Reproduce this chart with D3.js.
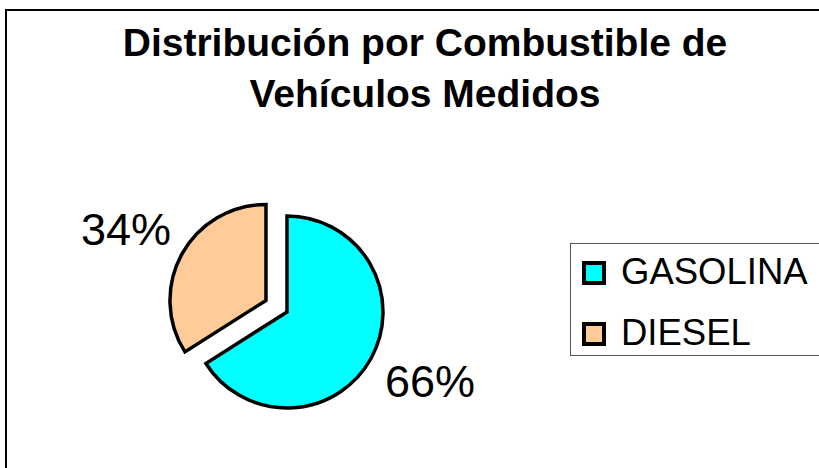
<!DOCTYPE html>
<html>
<head>
<meta charset="utf-8">
<script src="https://cdn.jsdelivr.net/npm/d3@7"></script>
<style>
  body { margin: 0; background: #fff; }
  text { font-family: "Liberation Sans", Arial, sans-serif; }
</style>
</head>
<body>
<div id="chart"></div>
<script>
// data
var categories = ["GASOLINA", "DIESEL"];
var shares = [66, 34];
var colors = ["#00FFFF", "#FFCC99"];
var titleLines = ["Distribución por Combustible de", "Vehículos Medidos"];

var width = 819, height = 468;

var svg = d3.select("#chart").append("svg")
    .attr("width", width)
    .attr("height", height);

svg.append("rect")
    .attr("width", width).attr("height", height)
    .attr("fill", "#fff");

// chart area border (runs off right/bottom edge)
svg.append("rect")
    .attr("x", 6).attr("y", 10)
    .attr("width", width + 20).attr("height", height + 20)
    .attr("fill", "none")
    .attr("stroke", "#000")
    .attr("stroke-width", 2);

// title
svg.selectAll(".title")
    .data(titleLines)
    .enter().append("text")
    .attr("class", "title")
    .attr("x", 425)
    .attr("y", function(d, i) { return 56 + i * 51; })
    .attr("text-anchor", "middle")
    .attr("font-weight", "bold")
    .attr("font-size", 39)
    .attr("fill", "#000")
    .text(function(d) { return d; });

// pie
var cx = 287, cy = 312, r = 96;
var explode = [0, 24];

var pie = d3.pie().sort(null).value(function(d) { return d; });
var arcs = pie(shares);
var arc = d3.arc().innerRadius(0).outerRadius(r);

var g = svg.append("g").attr("transform", "translate(" + cx + "," + cy + ")");

g.selectAll("path")
    .data(arcs)
    .enter().append("path")
    .attr("transform", function(d, i) {
        var a = (d.startAngle + d.endAngle) / 2;
        return "translate(" + (Math.sin(a) * explode[i]) + "," + (-Math.cos(a) * explode[i]) + ")";
    })
    .attr("d", arc)
    .attr("fill", function(d, i) { return colors[i]; })
    .attr("stroke", "#000")
    .attr("stroke-width", 3.5)
    .attr("stroke-linejoin", "miter");

// percent labels
var labelPos = [[430, 397], [126, 245]];
svg.selectAll(".pct")
    .data(arcs)
    .enter().append("text")
    .attr("class", "pct")
    .attr("x", function(d, i) { return labelPos[i][0]; })
    .attr("y", function(d, i) { return labelPos[i][1]; })
    .attr("text-anchor", "middle")
    .attr("font-size", 45)
    .attr("fill", "#000")
    .text(function(d) { return d.data + "%"; });

// legend
svg.append("rect")
    .attr("x", 570.5).attr("y", 243.5)
    .attr("width", 300).attr("height", 112)
    .attr("fill", "#fff")
    .attr("stroke", "#555")
    .attr("stroke-width", 1);

var leg = svg.selectAll(".leg")
    .data(categories)
    .enter().append("g")
    .attr("class", "leg")
    .attr("transform", function(d, i) { return "translate(584," + (263 + i * 61) + ")"; });

leg.append("rect")
    .attr("width", 20).attr("height", 20)
    .attr("fill", function(d, i) { return colors[i]; })
    .attr("stroke", "#000")
    .attr("stroke-width", 4);

leg.append("text")
    .attr("x", 37)
    .attr("y", 21)
    .attr("font-size", 36.5)
    .attr("fill", "#000")
    .text(function(d) { return d; });
</script>
</body>
</html>
